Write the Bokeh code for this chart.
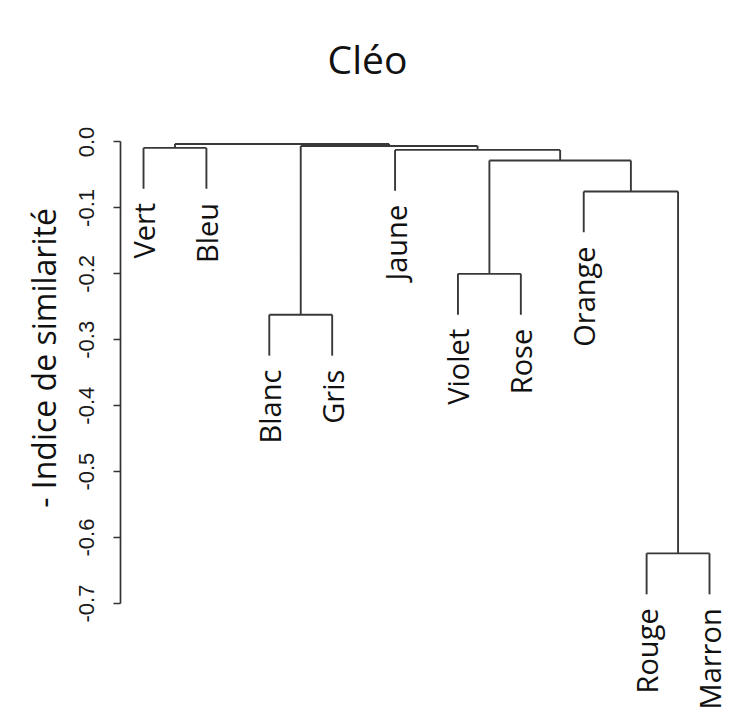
import math

from bokeh.core.properties import value
from bokeh.embed import file_html
from bokeh.models import ColumnDataSource, FixedTicker, Label, PrintfTickFormatter
from bokeh.plotting import figure
from bokeh.resources import INLINE

# ---- data -------------------------------------------------------------
chart_title = "Cléo"
y_axis_title = "- Indice de similarité"

leaves = ["Vert", "Bleu", "Blanc", "Gris", "Jaune",
          "Violet", "Rose", "Orange", "Rouge", "Marron"]

# hclust-style merge table: negative = leaf number (1-based, in the order
# above), positive = an earlier row of the table
merge_left = [-9, -3, -6, -8, 3, -5, -1, 2, 7]
merge_right = [-10, -4, -7, 1, 4, 5, -2, 6, 8]
merge_height = [-0.624, -0.262, -0.200, -0.075, -0.028, -0.012, -0.009, -0.006, -0.003]

y_ticks = [0.0, -0.1, -0.2, -0.3, -0.4, -0.5, -0.6, -0.7]

# ---- dendrogram geometry (plot.hclust style, hang = 0.1) ----------------
hang = 0.1
drop = hang * (max(merge_height) - min(merge_height))

node_x = []
x0, y0, x1, y1 = [], [], [], []
leaf_x, leaf_y = [], []
leaf_end = {}

for left, right, h in zip(merge_left, merge_right, merge_height):
    xs = []
    for child in (left, right):
        if child < 0:
            cx = float(-child)
            cy = h - drop
            leaf_end[-child] = cy
        else:
            cx = node_x[child - 1]
            cy = merge_height[child - 1]
        xs.append(cx)
        # vertical stem from child up to the merge level
        x0.append(cx); y0.append(cy); x1.append(cx); y1.append(h)
    # horizontal bar joining the two children
    x0.append(xs[0]); y0.append(h); x1.append(xs[1]); y1.append(h)
    node_x.append((xs[0] + xs[1]) / 2.0)

for i, name in enumerate(leaves, start=1):
    leaf_x.append(float(i))
    leaf_y.append(leaf_end[i])

seg_src = ColumnDataSource(dict(x0=x0, y0=y0, x1=x1, y1=y1))
lab_src = ColumnDataSource(dict(x=leaf_x, y=leaf_y, name=leaves))

# ---- figure -----------------------------------------------------------
p = figure(
    width=739, height=715,
    x_range=(0.634, 10.477), y_range=(-0.8699, 0.2146),
    output_backend="svg", toolbar_location=None,
    min_border_left=120, min_border_right=0,
    min_border_top=0, min_border_bottom=0,
    x_axis_location=None,
)
p.outline_line_color = None
p.grid.visible = False
p.background_fill_color = "white"
p.border_fill_color = "white"

p.segment("x0", "y0", "x1", "y1", source=seg_src,
          line_color="#383838", line_width=1.9)

p.text("x", "y", text="name", source=lab_src,
       angle=math.pi / 2, text_align="right", text_baseline="middle",
       y_offset=14, text_font=value("Open Sans"), text_font_size="29px",
       text_color="#111111")

ax = p.yaxis[0]
ax.bounds = (min(y_ticks), max(y_ticks))
ax.ticker = FixedTicker(ticks=y_ticks, minor_ticks=[])
ax.formatter = PrintfTickFormatter(format="%.1f")
ax.major_label_orientation = "vertical"
ax.major_label_text_font = "Liberation Sans"
ax.major_label_text_font_size = "22px"
ax.major_label_text_color = "#1a1a1a"
ax.major_label_standoff = 19
ax.major_tick_out = 7
ax.major_tick_in = 0
ax.minor_tick_out = 0
ax.minor_tick_in = 0
ax.axis_line_color = "#333333"
ax.axis_line_width = 1.7
ax.major_tick_line_color = "#333333"
ax.major_tick_line_width = 1.7
ax.axis_label = y_axis_title
ax.axis_label_text_font = "Open Sans"
ax.axis_label_text_font_size = "32px"
ax.axis_label_text_font_style = "normal"
ax.axis_label_text_color = "#111111"
ax.axis_label_standoff = 12

# chart title (screen units are measured from the plot frame)
p.add_layout(Label(x=247, y=657, x_units="screen", y_units="screen",
                   text=chart_title, text_align="center",
                   text_baseline="alphabetic",
                   text_font="Open Sans", text_font_size="39px",
                   text_color="#111111"))

open("out.html", "w").write(file_html(p, INLINE))
